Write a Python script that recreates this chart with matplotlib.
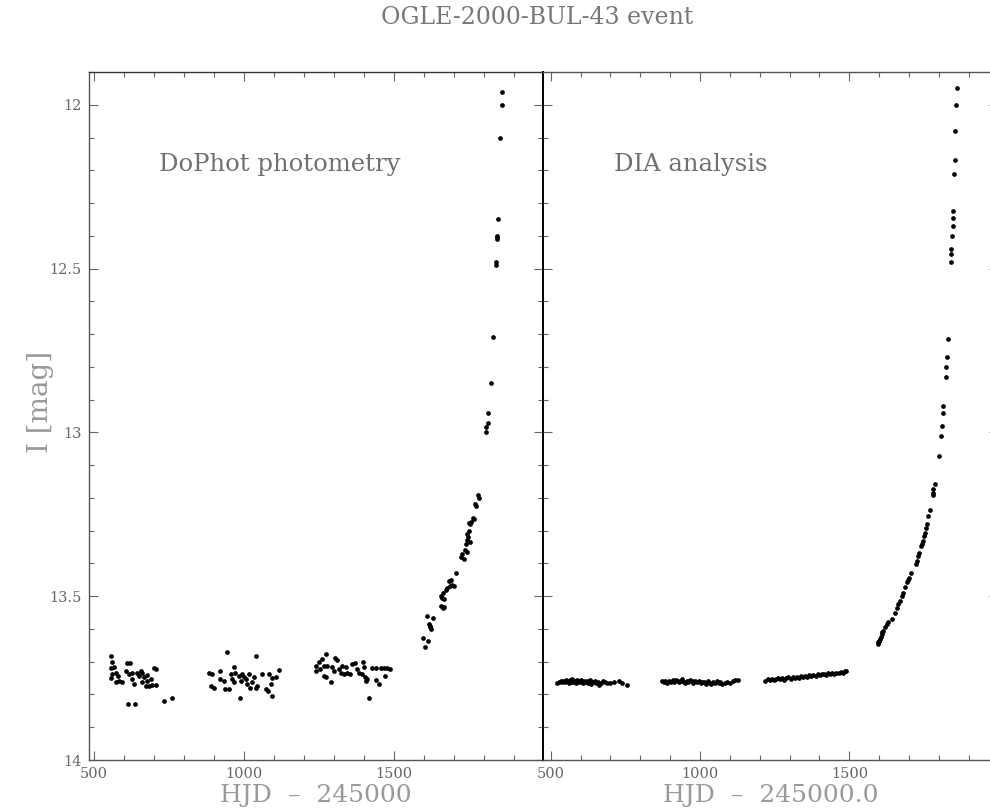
import matplotlib
matplotlib.use("Agg")
import matplotlib.pyplot as plt
from matplotlib.ticker import MultipleLocator, FuncFormatter

# DoPhot photometry (left panel): HJD-2450000 and I magnitude
dophot_hjd = [
    556, 561, 556, 567, 572, 561, 556, 581, 583, 572,
    594, 609, 619, 606, 617, 628, 628, 633, 644, 650,
    656, 661, 667, 678, 661, 672, 683, 694, 707, 700,
    707, 614, 637, 733, 761, 678, 689,
    883, 894, 889, 900, 922, 922, 933, 937, 944, 950,
    956, 961, 967, 967, 972, 983, 986, 989, 994, 1000,
    1006, 1011, 1017, 1022, 1028, 1033, 1039, 1041, 1044, 1059,
    1074, 1081, 1083, 1089, 1092, 1094, 1106, 1117,
    1239, 1241, 1250, 1252, 1261, 1267, 1272, 1278, 1267, 1272,
    1289, 1294, 1300, 1303, 1311, 1317, 1322, 1328, 1333, 1339,
    1344, 1352, 1361, 1370, 1378, 1383, 1394, 1397, 1400, 1403,
    1406, 1411, 1417, 1428, 1439, 1441, 1450, 1456, 1467, 1470,
    1478, 1487,
    1598, 1613, 1605, 1617, 1620, 1623, 1619, 1610, 1631, 1657,
    1662, 1667, 1657, 1662, 1667, 1672, 1677, 1660, 1683, 1690,
    1695, 1700, 1688, 1706, 1723, 1728, 1733, 1743, 1737, 1740,
    1745, 1748, 1744, 1750, 1752, 1755, 1757, 1750, 1765, 1767,
    1770, 1772, 1781, 1784,
    1807, 1807, 1815, 1812, 1824, 1830, 1840, 1840, 1843, 1843,
    1843, 1847, 1853, 1859, 1860,
]
dophot_mag = [
    13.684, 13.700, 13.720, 13.717, 13.733, 13.738, 13.751, 13.743, 13.758, 13.763,
    13.763, 13.705, 13.705, 13.727, 13.738, 13.733, 13.753, 13.768, 13.733, 13.743,
    13.727, 13.733, 13.748, 13.741, 13.763, 13.774, 13.774, 13.772, 13.772, 13.720,
    13.722, 13.830, 13.830, 13.820, 13.810, 13.758, 13.753,
    13.733, 13.738, 13.774, 13.779, 13.727, 13.753, 13.758, 13.783, 13.670, 13.783,
    13.738, 13.753, 13.717, 13.763, 13.733, 13.743, 13.810, 13.758, 13.738, 13.748,
    13.753, 13.768, 13.738, 13.779, 13.763, 13.748, 13.779, 13.684, 13.774, 13.736,
    13.783, 13.788, 13.738, 13.768, 13.804, 13.751, 13.748, 13.724,
    13.714, 13.727, 13.702, 13.722, 13.692, 13.712, 13.677, 13.712, 13.743, 13.748,
    13.763, 13.717, 13.727, 13.689, 13.696, 13.722, 13.733, 13.712, 13.738, 13.717,
    13.733, 13.738, 13.708, 13.705, 13.722, 13.733, 13.738, 13.702, 13.717, 13.748,
    13.760, 13.753, 13.810, 13.720, 13.756, 13.720, 13.768, 13.720, 13.720, 13.744,
    13.720, 13.722,
    13.628, 13.637, 13.655, 13.585, 13.595, 13.600, 13.590, 13.560, 13.567, 13.530,
    13.535, 13.532, 13.500, 13.490, 13.510, 13.480, 13.475, 13.505, 13.455, 13.450,
    13.465, 13.470, 13.468, 13.428, 13.380, 13.370, 13.385, 13.365, 13.360, 13.340,
    13.330, 13.320, 13.310, 13.300, 13.335, 13.280, 13.275, 13.278, 13.260, 13.265,
    13.220, 13.225, 13.190, 13.200,
    12.985, 13.000, 12.970, 12.940, 12.850, 12.710, 12.480, 12.490, 12.400, 12.405,
    12.410, 12.350, 12.100, 12.000, 11.960,
]

# DIA analysis (right panel)
dia_hjd = [
    522, 528, 533, 538, 542, 547, 551, 556, 560, 564,
    568, 572, 576, 580, 584, 588, 592, 596, 600, 604,
    608, 612, 617, 621, 625, 630, 634, 639, 643, 648,
    652, 657, 662, 668, 674, 680, 688, 697, 712, 728,
    740, 757,
    872, 878, 884, 890, 896, 902, 908, 914, 920, 925,
    930, 935, 940, 945, 950, 955, 960, 966, 972, 978,
    984, 990, 996, 1002, 1008, 1014, 1020, 1026, 1032, 1038,
    1044, 1050, 1056, 1062, 1068, 1075, 1082, 1090, 1100, 1110,
    1118, 1126,
    1218, 1226, 1233, 1240, 1247, 1254, 1261, 1268, 1275, 1282,
    1289, 1296, 1303, 1310, 1317, 1324, 1331, 1338, 1345, 1352,
    1359, 1366, 1373, 1380, 1387, 1394, 1401, 1408, 1415, 1422,
    1429, 1436, 1443, 1450, 1457, 1464, 1471, 1478, 1484, 1489,
    1596, 1597, 1599, 1601, 1603, 1606, 1608, 1611, 1614, 1620,
    1625, 1631, 1642, 1653, 1659, 1664, 1670, 1675, 1681, 1687,
    1692, 1697, 1701, 1706, 1723, 1726, 1731, 1734, 1739, 1742,
    1746, 1750, 1754, 1757, 1759, 1765, 1770, 1779, 1780, 1781,
    1787, 1801,
    1807, 1810, 1813, 1815, 1823, 1824, 1826, 1830, 1841, 1842,
    1842, 1844, 1846, 1848, 1847, 1851, 1853, 1855, 1857, 1859,
]
dia_mag = [
    13.764, 13.762, 13.760, 13.763, 13.758, 13.761, 13.756, 13.760, 13.764, 13.757,
    13.761, 13.754, 13.762, 13.759, 13.765, 13.757, 13.760, 13.763, 13.756, 13.761,
    13.766, 13.758, 13.762, 13.760, 13.764, 13.757, 13.768, 13.761, 13.763, 13.759,
    13.766, 13.762, 13.770, 13.764, 13.760, 13.763, 13.766, 13.765, 13.762, 13.758,
    13.765, 13.770,
    13.758, 13.763, 13.760, 13.765, 13.759, 13.762, 13.757, 13.761, 13.755, 13.760,
    13.763, 13.758, 13.752, 13.761, 13.766, 13.759, 13.762, 13.757, 13.760, 13.764,
    13.759, 13.762, 13.758, 13.765, 13.761, 13.763, 13.767, 13.760, 13.764, 13.768,
    13.762, 13.765, 13.760, 13.766, 13.763, 13.768, 13.764, 13.761, 13.765, 13.760,
    13.757, 13.755,
    13.760, 13.753, 13.756, 13.752, 13.755, 13.754, 13.750, 13.753, 13.749, 13.757,
    13.751, 13.748, 13.752, 13.747, 13.750, 13.746, 13.749, 13.745, 13.747, 13.744,
    13.748, 13.742, 13.745, 13.741, 13.743, 13.739, 13.742, 13.738, 13.736, 13.740,
    13.735, 13.738, 13.734, 13.737, 13.733, 13.735, 13.731, 13.733, 13.729, 13.727,
    13.645, 13.641, 13.638, 13.636, 13.630, 13.626, 13.616, 13.610, 13.606, 13.595,
    13.585, 13.580, 13.570, 13.550, 13.535, 13.524, 13.514, 13.499, 13.489, 13.473,
    13.458, 13.450, 13.443, 13.428, 13.402, 13.392, 13.377, 13.367, 13.347, 13.341,
    13.331, 13.316, 13.306, 13.291, 13.280, 13.255, 13.237, 13.192, 13.184, 13.174,
    13.157, 13.072,
    13.010, 12.980, 12.940, 12.920, 12.830, 12.800, 12.770, 12.716, 12.480, 12.457,
    12.440, 12.400, 12.370, 12.345, 12.325, 12.210, 12.170, 12.080, 12.000, 11.950,
]

panel_labels = ["DoPhot photometry", "DIA analysis"]
x_labels = ["HJD  \u2013  245000", "HJD  \u2013  245000.0"]
title = "OGLE-2000-BUL-43 event"

plt.rcParams["font.family"] = ["DejaVu Serif", "DejaVu Sans"]

W, H = 990, 811
fig = plt.figure(figsize=(W / 100, H / 100), dpi=100)
ax1 = fig.add_axes([88.5 / W, 51 / H, 454.5 / W, 688 / H])
ax2 = fig.add_axes([543 / W, 51 / H, 455 / W, 688 / H], sharey=ax1)

grey = "#666666"
for ax, hjd, mag, lab, xl in [(ax1, dophot_hjd, dophot_mag, panel_labels[0], x_labels[0]),
                               (ax2, dia_hjd, dia_mag, panel_labels[1], x_labels[1])]:
    ax.plot(hjd, mag, "o", color="black", ms=3.4, mew=0)
    ax.xaxis.set_major_locator(MultipleLocator(500))
    ax.xaxis.set_minor_locator(MultipleLocator(100))
    ax.yaxis.set_major_locator(MultipleLocator(0.5))
    ax.yaxis.set_minor_locator(MultipleLocator(0.1))
    ax.tick_params(which="both", direction="in", top=True, right=True,
                   color=grey, labelcolor=grey, labelsize=10.5, width=0.8)
    ax.tick_params(which="major", length=6.5, pad=5)
    ax.tick_params(which="minor", length=3.5)
    for s in ax.spines.values():
        s.set_color("#555555")
        s.set_linewidth(1.0)
    ax.text(0.155, 0.865, lab, transform=ax.transAxes, ha="left", va="center",
            fontsize=17.5, color="#707070")
    ax.set_xlabel(xl, fontsize=18, color="#9a9a9a", labelpad=2)

ax1.set_xlim(482, 1997)
ax2.set_xlim(474, 1998)
ax1.set_ylim(14, 11.9)
ax1.yaxis.set_major_formatter(FuncFormatter(lambda v, p: "%g" % v))
ax1.set_ylabel("I [mag]", fontsize=20, color="#9a9a9a", labelpad=6)
ax1.yaxis.set_label_coords(-35 / 454.5, 0.52)
ax2.tick_params(labelleft=False)

# the shared border between the panels is drawn darker
ax1.spines["right"].set_color("black")
ax1.spines["right"].set_linewidth(1.4)
ax2.spines["left"].set_color("black")
ax2.spines["left"].set_linewidth(1.4)
ax1.spines["top"].set_color("#333333")

fig.text(537 / W, 1 - 18 / H, title, ha="center", va="center",
         fontsize=17, color="#777777")

fig.savefig("out.png", dpi=100)
